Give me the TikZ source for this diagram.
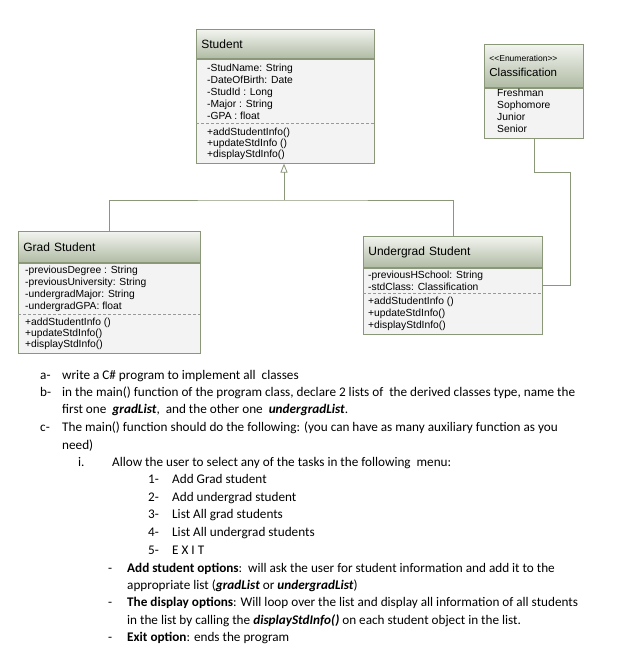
\documentclass[tikz,border=0pt]{standalone}
\usepackage{fontspec}
\setmainfont{Carlito}
\newfontfamily\umlfont{Liberation Sans}
\usetikzlibrary{arrows.meta,positioning}
\definecolor{umlline}{HTML}{8A9779}
\definecolor{hdtop}{HTML}{F2F4EF}
\definecolor{hdbot}{HTML}{B0BBA4}
\definecolor{bodyfill}{HTML}{F3F3F3}
\tikzset{
    hdr/.style={draw=umlline, thick, top color=hdtop, bottom color=hdbot,
        anchor=north west, align=left, inner xsep=5pt,
        font=\umlfont\fontsize{12}{14}\selectfont},
    classbody/.style={draw=umlline, thick, fill=bodyfill, anchor=north west, inner sep=0pt},
    member/.style={anchor=base west, inner sep=0pt, font=\umlfont\fontsize{10.3}{12}\selectfont},
    sep/.style={densely dashed, gray!80, line width=0.5pt},
    link/.style={draw=umlline, thick},
    txt/.style={anchor=base west, inner sep=0pt, font=\fontsize{13.2}{15}\selectfont},
}
\begin{document}
\begin{tikzpicture}[x=1pt,y=-1pt]
    \useasboundingbox (0,0) rectangle (624,649);
    % base class
    \node[hdr, minimum width=178pt, minimum height=29pt, text width=168pt] (studhdr) at (196,29) {Student};
    \node[classbody, minimum width=178pt, minimum height=104pt] (studbody) at (studhdr.south west) {};
    \foreach \t [count=\k] in {-StudName: String,-DateOfBirth: Date,-StudId : Long,-Major : String,-GPA : float}
        \node[member] (sa\k) at (207,59+12*\k) {\t};
    \draw[sep] (196,123) -- (374,123);
    \foreach \t [count=\k] in {+addStudentInfo(),+updateStdInfo (),+displayStdInfo()}
        \node[member] (sm\k) at (207,124+11*\k) {\t};
    % enumeration
    \node[hdr, minimum width=99pt, minimum height=43pt, text width=89pt, inner ysep=5pt] (clshdr) at (484,44)
        {{\fontsize{8.5}{10}\selectfont <<Enumeration>>}\\[1pt]{\fontsize{11.5}{13}\selectfont Classification}};
    \node[classbody, minimum width=99pt, minimum height=50pt] (clsbody) at (clshdr.south west) {};
    \foreach \t [count=\k] in {Freshman,Sophomore,Junior,Senior}
        \node[member] (ci\k) at (497,84+12*\k) {\t};
    % derived classes
    \node[hdr, minimum width=182pt, minimum height=31pt, text width=172pt] (gradhdr) at (18,231) {Grad Student};
    \node[classbody, minimum width=182pt, minimum height=90pt] (gradbody) at (gradhdr.south west) {};
    \foreach \t [count=\k] in {-previousDegree : String,-previousUniversity: String,-undergradMajor: String,-undergradGPA: float}
        \node[member] (ga\k) at (25,261+12*\k) {\t};
    \draw[sep] (18,314) -- (200,314);
    \foreach \t [count=\k] in {+addStudentInfo (),+updateStdInfo(),+displayStdInfo()}
        \node[member] (gm\k) at (25,314+11*\k) {\t};
    \node[hdr, minimum width=179pt, minimum height=31pt, text width=169pt] (ughdr) at (363,236) {Undergrad Student};
    \node[classbody, minimum width=179pt, minimum height=66pt] (ugbody) at (ughdr.south west) {};
    \foreach \t [count=\k] in {-previousHSchool: String,-stdClass: Classification}
        \node[member] (ua\k) at (368,266+12*\k) {\t};
    \draw[sep] (363,293) -- (542,293);
    \foreach \t [count=\k] in {+addStudentInfo (),+updateStdInfo(),+displayStdInfo()}
        \node[member] (um\k) at (368,292+12*\k) {\t};
    % generalization
    \coordinate (jn) at (284,200);
    \draw[link, -{Triangle[open, length=9pt, width=7pt]}] (jn) -- (jn |- studbody.south);
    \draw[link] (gradhdr.north) |- (jn) -| (ughdr.north);
    % association to enumeration
    \coordinate (bend) at (570,172);
    \draw[link] (clsbody.south) |- (bend) |- ([yshift=16pt]ugbody.east);
    % task text
    \node[txt] (la) at (40,379) {a-};
    \node[txt] (ta) at (62,379) {write a C\# program to implement all\ \ classes};
    \node[txt] (lb) at (40,396) {b-};
    \node[txt] (tb) at (62,396) {in the main() function of the program class, declare 2 lists of\ \ the derived classes type, name the};
    \node[txt] (tb2) at (62,413) {first one\ \ \textbf{\textit{gradList}},\ \ and the other one\ \ \textbf{\textit{undergradList}}.};
    \node[txt] (lc) at (40,431) {c-};
    \node[txt] (tc) at (62,431) {The main() function should do the following: (you can have as many auxiliary function as you};
    \node[txt] (tc2) at (62,449) {need)};
    \node[txt] (li) at (78,466) {i.};
    \node[txt] (ti) at (112,466) {Allow the user to select any of the tasks in the following\ \ menu:};
    \foreach \t [count=\k] in {Add Grad student,Add undergrad student,List All grad students,List All undergrad students,E X I T}{
        \node[txt] (mn\k) at (148,466+17.6*\k) {\k-};
        \node[txt] (mt\k) at (172,466+17.6*\k) {\t};
    }
    \node[txt] (d1) at (108,572) {-};
    \node[txt] (o1) at (127,572) {\textbf{Add student options}:\ \ will ask the user for student information and add it to the};
    \node[txt] (o1b) at (127,589) {appropriate list (\textbf{\textit{gradList}} or \textbf{\textit{undergradList}})};
    \node[txt] (d2) at (108,606) {-};
    \node[txt] (o2) at (127,606) {\textbf{The display options}: Will loop over the list and display all information of all students};
    \node[txt] (o2b) at (127,624) {in the list by calling the \textbf{\textit{displayStdInfo()}} on each student object in the list.};
    \node[txt] (d3) at (108,641) {-};
    \node[txt] (o3) at (127,641) {\textbf{Exit option}: ends the program};
\end{tikzpicture}
\end{document}
